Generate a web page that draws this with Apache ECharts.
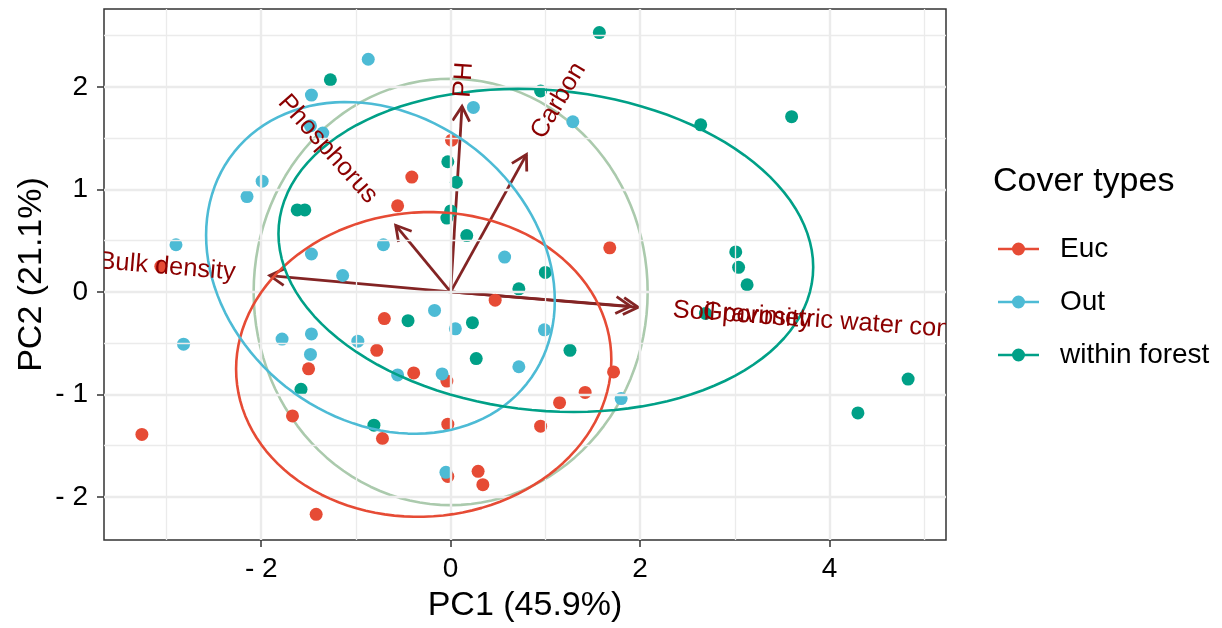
<!DOCTYPE html>
<html><head><meta charset="utf-8">
<script src="https://cdn.jsdelivr.net/npm/echarts@6/dist/echarts.min.js"></script>
<style>html,body{margin:0;padding:0;background:#fff}#c{width:1222px;height:628px}</style>
</head><body><div id="c"></div>
<script>
// ---- data ----
const groups = ['Euc', 'Out', 'within forest'];
const groupColors = ['#E64B35', '#4DBBD5', '#00A087'];
const eucPoints = [[0.01,1.48],[-0.41,1.12],[-0.56,0.84],[-3.06,0.25],[0.47,-0.08],[1.68,0.43],[-0.70,-0.26],[-0.78,-0.57],[-1.50,-0.75],[-0.39,-0.79],[-0.04,-0.87],[-1.67,-1.21],[-0.03,-1.29],[-0.72,-1.43],[-3.26,-1.39],[0.95,-1.31],[-0.03,-1.80],[0.29,-1.75],[0.34,-1.88],[-1.42,-2.17],[1.72,-0.78],[1.42,-0.98],[1.15,-1.08]];
const outPoints = [[-0.87,2.27],[-1.47,1.92],[0.24,1.80],[-1.48,1.62],[-1.35,1.55],[-1.99,1.08],[-2.15,0.93],[-0.71,0.46],[-2.90,0.46],[-1.47,0.37],[-1.14,0.16],[0.57,0.34],[1.29,1.66],[-0.17,-0.18],[0.05,-0.36],[0.99,-0.37],[-1.78,-0.46],[-1.47,-0.41],[-2.82,-0.51],[-0.98,-0.48],[-1.48,-0.61],[0.72,-0.73],[-0.56,-0.81],[-0.09,-0.80],[-0.05,-1.76],[1.80,-1.04]];
const forestPoints = [[-1.27,2.07],[0.95,1.96],[-0.03,1.27],[0.06,1.07],[-1.62,0.80],[-1.54,0.80],[0.00,0.79],[-0.04,0.72],[0.17,0.55],[1.00,0.19],[0.72,0.03],[1.57,2.53],[2.64,1.63],[3.60,1.71],[3.01,0.39],[3.04,0.24],[3.13,0.07],[-0.45,-0.28],[0.23,-0.30],[0.27,-0.65],[-1.58,-0.95],[-0.81,-1.30],[1.26,-0.57],[2.69,-0.21],[4.83,-0.85],[4.30,-1.18]];
const varNames = ['PH', 'Carbon', 'Phosphorus', 'Bulk density', 'Soil porosity', 'Gravimetric water content'];
const varX = [0.12, 0.80, -0.58, -1.91, 1.98, 1.90];
const varY = [1.81, 1.34, 0.65, 0.16, -0.15, -0.14];
const circleRadius = 2.08;
const ellipseProb = 0.68;
const xTicks = [-2, 0, 2, 4];
const yTicks = [-2, -1, 0, 1, 2];
const xMinor = [-3, -1, 1, 3, 5];
const yMinor = [-1.5, -0.5, 0.5, 1.5, 2.5];
const xRange = [-3.66, 5.23];
const yRange = [-2.42, 2.76];
const xTitle = 'PC1 (45.9%)';
const yTitle = 'PC2 (21.1%)';
const legendTitle = 'Cover types';

// ---- helpers ----
const FONT = '"Liberation Sans", Arial, sans-serif';
const LABEL_SIZE = 25.5;
const groupPoints = [eucPoints, outPoints, forestPoints];
const mctx = document.createElement('canvas').getContext('2d');
function textWidth(s) { mctx.font = LABEL_SIZE + 'px ' + FONT; return mctx.measureText(s).width; }
function ellipsePath(pts) {
  const n = pts.length;
  let mx = 0, my = 0;
  pts.forEach(p => { mx += p[0]; my += p[1]; });
  mx /= n; my /= n;
  let sxx = 0, syy = 0, sxy = 0;
  pts.forEach(p => { const dx = p[0] - mx, dy = p[1] - my; sxx += dx * dx; syy += dy * dy; sxy += dx * dy; });
  sxx /= (n - 1); syy /= (n - 1); sxy /= (n - 1);
  const r11 = Math.sqrt(sxx), r12 = sxy / r11, r22 = Math.sqrt(syy - r12 * r12);
  const ed = Math.sqrt(-2 * Math.log(1 - ellipseProb));
  const out = [];
  for (let i = 0; i <= 120; i++) {
    const t = -Math.PI + 2 * Math.PI * i / 120, c = Math.cos(t), s = Math.sin(t);
    out.push([mx + ed * c * r11, my + ed * (c * r12 + s * r22)]);
  }
  return out;
}
function circlePath(r) {
  const out = [];
  for (let i = 0; i <= 120; i++) { const t = -Math.PI + 2 * Math.PI * i / 120; out.push([r * Math.cos(t), r * Math.sin(t)]); }
  return out;
}
const fmt = v => (v < 0 ? '- ' + Math.abs(v) : String(v));
const ICON = 'path://M0,5.2 L41,5.2 L41,7.8 L0,7.8 Z M27,6.5 A6.5,6.5,0,1,1,14,6.5 A6.5,6.5,0,1,1,27,6.5 Z';

const gridLines = [];
xMinor.forEach(v => gridLines.push({ xAxis: v, lineStyle: { color: '#ebebeb', width: 1.3, type: 'solid' } }));
yMinor.forEach(v => gridLines.push({ yAxis: v, lineStyle: { color: '#ebebeb', width: 1.3, type: 'solid' } }));
xTicks.forEach(v => gridLines.push({ xAxis: v, lineStyle: { color: '#ebebeb', width: 2.4, type: 'solid' } }));
yTicks.forEach(v => gridLines.push({ yAxis: v, lineStyle: { color: '#ebebeb', width: 2.4, type: 'solid' } }));

const series = [];
series.push({
  type: 'line', name: 'grid', data: [], silent: true, z: 1,
  markLine: { silent: true, symbol: ['none', 'none'], label: { show: false }, animation: false, data: gridLines }
});
series.push({
  type: 'line', name: 'circle', data: circlePath(circleRadius), showSymbol: false, symbol: 'none', silent: true, z: 2,
  lineStyle: { color: '#abcaad', width: 2.6 }
});
series.push({
  type: 'custom', name: 'arrows', clip: true, silent: true, z: 3,
  data: varX.map((x, i) => [x, varY[i]]), encode: { x: 0, y: 1 },
  renderItem: (params, api) => {
    const o = api.coord([0, 0]);
    const t = api.coord([api.value(0), api.value(1)]);
    const ang = Math.atan2(t[1] - o[1], t[0] - o[0]);
    const L = 17, a = Math.PI / 6;
    const p1 = [t[0] - L * Math.cos(ang - a), t[1] - L * Math.sin(ang - a)];
    const p2 = [t[0] - L * Math.cos(ang + a), t[1] - L * Math.sin(ang + a)];
    const st = { stroke: '#832424', lineWidth: 2.8, fill: null };
    return { type: 'group', children: [
      { type: 'line', shape: { x1: o[0], y1: o[1], x2: t[0], y2: t[1] }, style: st },
      { type: 'polyline', shape: { points: [p1, t, p2] }, style: st }
    ] };
  }
});
groups.forEach((g, i) => {
  series.push({
    type: 'scatter', name: g, data: groupPoints[i], symbol: 'circle', symbolSize: 13, z: 4,
    itemStyle: { color: groupColors[i], opacity: 1 }, emphasis: { disabled: true }
  });
});
groups.forEach((g, i) => {
  series.push({
    type: 'line', name: g + ' ellipse', data: ellipsePath(groupPoints[i]), showSymbol: false, symbol: 'none', silent: true, z: 5,
    lineStyle: { color: groupColors[i], width: 2.6 }
  });
});
series.push({
  type: 'custom', name: 'labels', clip: true, silent: true, z: 6,
  data: varX.map((x, i) => [x, varY[i]]), encode: { x: 0, y: 1 },
  renderItem: (params, api) => {
    const i = params.dataIndex;
    const xv = api.value(0), yv = api.value(1);
    const t = api.coord([xv, yv]);
    const th = Math.atan(yv / xv);
    const W = textWidth(varNames[i]);
    const d = (xv >= 0 ? 1 : -1) * 0.75 * W;
    return {
      type: 'text', x: t[0] + d * Math.cos(th), y: t[1] - d * Math.sin(th), rotation: th,
      style: { text: varNames[i], fill: '#8B0000', fontSize: LABEL_SIZE, fontFamily: FONT, align: 'center', verticalAlign: 'middle' }
    };
  }
});

const chart = echarts.init(document.getElementById('c'), null, { renderer: 'canvas' });
chart.setOption({
  animation: false,
  backgroundColor: '#ffffff',
  title: { text: legendTitle, left: 993, top: 165, padding: 0,
    textStyle: { fontSize: 34, fontWeight: 'normal', color: '#000', fontFamily: FONT } },
  legend: {
    orient: 'vertical', left: 998, top: 235, padding: 0, itemWidth: 41, itemHeight: 13, itemGap: 25,
    selectedMode: false,
    data: groups.map(g => ({ name: g, icon: ICON })),
    textStyle: { fontSize: 28, color: '#000', fontFamily: FONT, lineHeight: 28, padding: [0, 0, 0, 16] }
  },
  grid: { left: 104, right: 276, top: 9, bottom: 86, show: true, borderColor: '#333', borderWidth: 1.5, backgroundColor: '#fff', containLabel: false },
  xAxis: {
    type: 'value', min: xRange[0], max: xRange[1],
    name: xTitle, nameLocation: 'middle', nameGap: 49, nameMoveOverlap: false,
    nameTextStyle: { fontSize: 34, color: '#000', fontFamily: FONT },
    axisLine: { show: false, onZero: false }, splitLine: { show: false },
    axisTick: { show: true, customValues: xTicks, length: 7, lineStyle: { color: '#333', width: 1.5 } },
    axisLabel: { customValues: xTicks, formatter: fmt, fontSize: 28, color: '#000', margin: 15, fontFamily: FONT }
  },
  yAxis: {
    type: 'value', min: yRange[0], max: yRange[1],
    name: yTitle, nameLocation: 'middle', nameGap: 55, nameRotate: 90, nameMoveOverlap: false,
    nameTextStyle: { fontSize: 34, color: '#000', fontFamily: FONT },
    axisLine: { show: false, onZero: false }, splitLine: { show: false },
    axisTick: { show: true, customValues: yTicks, length: 7, lineStyle: { color: '#333', width: 1.5 } },
    axisLabel: { customValues: yTicks, formatter: fmt, fontSize: 28, color: '#000', margin: 16, fontFamily: FONT }
  },
  series: series
});
</script>
</body></html>
